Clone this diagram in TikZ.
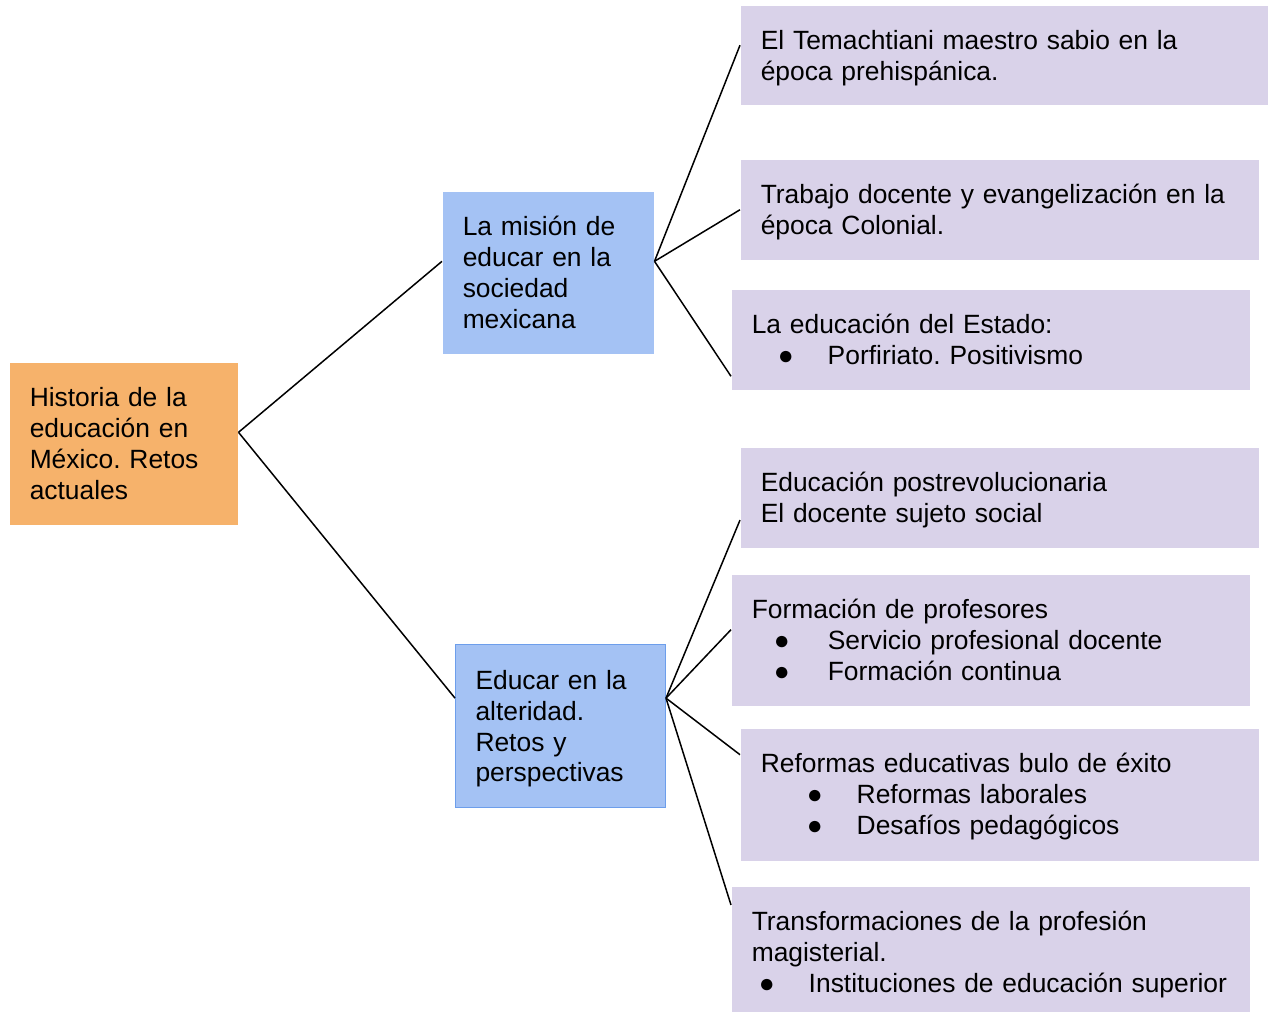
\documentclass[tikz,border=0pt]{standalone}
\usepackage{fontspec}
\setmainfont{Liberation Sans}
\usetikzlibrary{calc,positioning}

\definecolor{naranja}{HTML}{F6B26B}
\definecolor{azul}{HTML}{A4C2F4}
\definecolor{azulborde}{HTML}{6D9EEB}
\definecolor{lila}{HTML}{D9D2E9}

\frenchspacing
\hyphenpenalty=10000
\newcommand{\bul}[2]{\hspace*{#1}\makebox[#2][l]{●}}

\begin{document}
\begin{tikzpicture}[x=1pt, y=-1pt, line width=0.75pt,
    every node/.append style={font=\fontsize{13.2}{15.4}\selectfont},
    cell/.style={rectangle, anchor=north west, inner xsep=10pt, inner ysep=0pt, align=left, text height=22pt},
    root/.style={cell, fill=naranja},
    mid/.style={cell, fill=azul},
    leaf/.style={cell, fill=lila}]
    \useasboundingbox (0,0) rectangle (636.5,506);

    \node (Historia) [root, text width=94pt, text depth=59pt] at (4.5,181)
      {Historia de la\\educación en\\México. Retos\\actuales};

    \node (Mision) [mid, text width=85.5pt, text depth=59pt] at (221,95.5)
      {La misión de\\educar en la\\sociedad\\mexicana};
    \node (Alteridad) [mid, draw=azulborde, line width=0.5pt, text width=85pt, text height=22.5pt, text depth=59pt] at (227.5,322)
      {Educar en la\\alteridad.\\Retos y\\perspectivas};

    \node (Temachtiani) [leaf, text width=243.5pt, text depth=27.5pt] at (370,2.5)
      {El Temachtiani maestro sabio en la\\época prehispánica.};
    \node (Colonial) [leaf, text width=239pt, text depth=28pt] at (370,79.5)
      {Trabajo docente y evangelización en la\\época Colonial.};
    \node (Estado) [leaf, text width=239pt, text depth=28pt] at (365.5,144.5)
      {La educación del Estado:\\\bul{13pt}{25pt}Porfiriato. Positivismo};
    \node (Postrevolucion) [leaf, text width=239pt, text depth=28pt] at (370,223.5)
      {Educación postrevolucionaria\\El docente sujeto social};
    \node (Formacion) [leaf, text width=239pt, text depth=43.5pt] at (365.5,287)
      {Formación de profesores\\\bul{11pt}{27pt}Servicio profesional docente\\\bul{11pt}{27pt}Formación continua};
    \node (Reformas) [leaf, text width=239pt, text depth=44pt] at (370,364)
      {Reformas educativas bulo de éxito\\\bul{23pt}{25pt}Reformas laborales\\\bul{23pt}{25pt}Desafíos pedagógicos};
    \node (Transformaciones) [leaf, text width=239pt, text depth=40.5pt] at (365.5,443)
      {Transformaciones de la profesión\\magisterial.\\\mbox{\bul{3.5pt}{25pt}Instituciones de educación superior}};

    % ramas principales
    \draw ($(Historia.north east)!0.43!(Historia.south east)$) -- ($(Mision.north west)!0.43!(Mision.south west)$);
    \draw ($(Historia.north east)!0.43!(Historia.south east)$) -- ($(Alteridad.north west)!0.33!(Alteridad.south west)$);

    % primera rama
    \draw ($(Mision.north east)!0.43!(Mision.south east)$) -- ($(Temachtiani.north west)!0.4!(Temachtiani.south west)$);
    \draw ($(Mision.north east)!0.43!(Mision.south east)$) -- (Colonial.west);
    \draw ($(Mision.north east)!0.43!(Mision.south east)$) -- ($(Estado.north west)!0.86!(Estado.south west)$);

    % segunda rama
    \draw ($(Alteridad.north east)!0.33!(Alteridad.south east)$) -- ($(Postrevolucion.north west)!0.72!(Postrevolucion.south west)$);
    \draw ($(Alteridad.north east)!0.33!(Alteridad.south east)$) -- ($(Formacion.north west)!0.42!(Formacion.south west)$);
    \draw ($(Alteridad.north east)!0.33!(Alteridad.south east)$) -- ($(Reformas.north west)!0.2!(Reformas.south west)$);
    \draw ($(Alteridad.north east)!0.33!(Alteridad.south east)$) -- ($(Transformaciones.north west)!0.15!(Transformaciones.south west)$);
\end{tikzpicture}
\end{document}
